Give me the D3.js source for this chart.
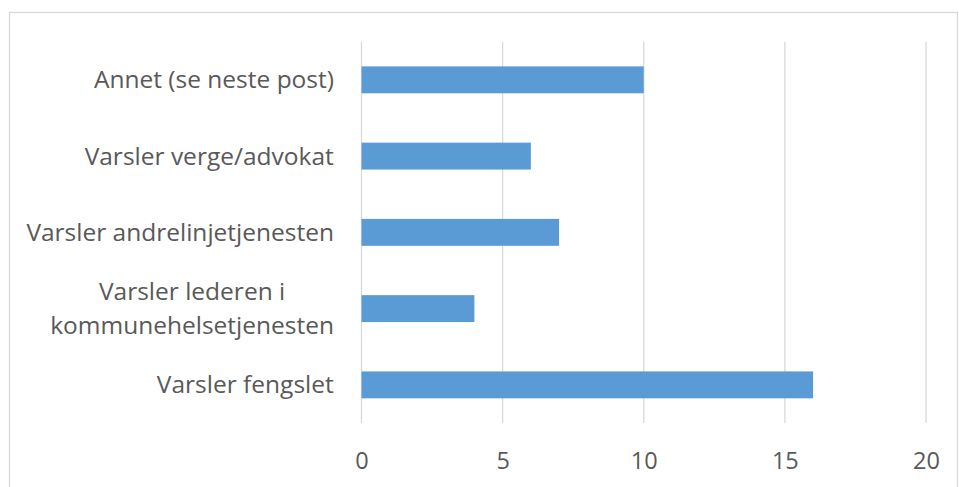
<!DOCTYPE html>
<html>
<head>
<meta charset="utf-8">
<script src="https://cdn.jsdelivr.net/npm/d3@7"></script>
<style>
  html, body { margin: 0; padding: 0; background: #fff; }
  svg { display: block; }
  text { font-family: "Open Sans", Lato, sans-serif; fill: #595959; }
</style>
</head>
<body>
<svg id="chart" width="959" height="487"></svg>
<script>
// Categories listed top to bottom
const categories = [
  ["Annet (se neste post)"],
  ["Varsler verge/advokat"],
  ["Varsler andrelinjetjenesten"],
  ["Varsler lederen i", "kommunehelsetjenesten"],
  ["Varsler fengslet"]
];
const values = [10, 6, 7, 4, 16];
const xTicks = [0, 5, 10, 15, 20];

const svg = d3.select("#chart");

// Chart frame
svg.append("rect")
  .attr("x", 9.5).attr("y", 12.5)
  .attr("width", 948).attr("height", 480)
  .attr("fill", "#fff").attr("stroke", "#D9D9D9").attr("stroke-width", 1.3);

const plot = { left: 361.5, right: 926, top: 41.7, bottom: 423 };

const x = d3.scaleLinear().domain([0, 20]).range([plot.left, plot.right]);
const y = d3.scaleBand()
  .domain(d3.range(categories.length))
  .range([plot.top, plot.bottom])
  .paddingInner(0.647).paddingOuter(0.3235);

// Vertical gridlines
svg.append("g").selectAll("line").data(xTicks).join("line")
  .attr("x1", d => x(d)).attr("x2", d => x(d))
  .attr("y1", plot.top).attr("y2", plot.bottom)
  .attr("stroke", "#D9D9D9").attr("stroke-width", 1.3);

// Bars
svg.append("g").selectAll("rect").data(values).join("rect")
  .attr("x", x(0))
  .attr("y", (d, i) => y(i))
  .attr("width", d => x(d) - x(0))
  .attr("height", y.bandwidth())
  .attr("fill", "#5B9BD5");

// X axis labels
const xAxis = d3.axisBottom(x).tickValues(xTicks).tickSize(0).tickPadding(0);
const gx = svg.append("g").attr("transform", `translate(0, 452.5)`).call(xAxis);
gx.select(".domain").remove();
gx.selectAll("text")
  .attr("dy", "0.71em")
  .style("font-size", "23.5px")
  .style("font-family", "'Open Sans', Lato, sans-serif")
  .attr("fill", "#595959");

// Category labels: lines centred on each other, block right-aligned to the axis
const fs = 24.5, lh = 34;
const labels = svg.append("g").selectAll("text").data(categories).join("text")
  .attr("text-anchor", "middle")
  .style("font-size", fs + "px");
labels.each(function (lines, i) {
  const cy = y(i) + y.bandwidth() / 2;
  const t = d3.select(this);
  lines.forEach((ln, j) => {
    t.append("tspan")
      .attr("x", 0)
      .attr("y", cy + (j - (lines.length - 1) / 2) * lh)
      .attr("dy", "0.35em")
      .text(ln);
  });
});
labels.each(function () {
  const bb = this.getBBox();
  d3.select(this).attr("transform", `translate(${334 - (bb.x + bb.width)},0)`);
});
</script>
</body>
</html>
